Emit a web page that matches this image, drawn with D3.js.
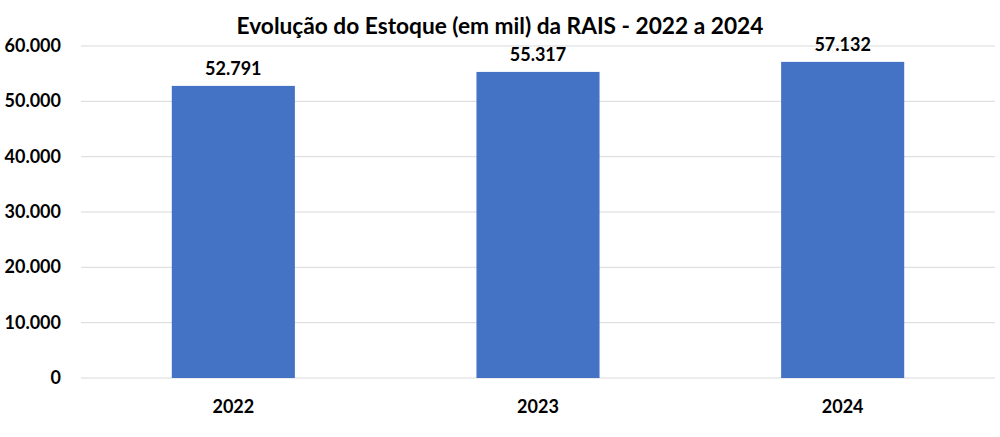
<!DOCTYPE html>
<html><head><meta charset="utf-8">
<script src="https://cdn.jsdelivr.net/npm/d3@7"></script>
<style>body{margin:0;background:#fff}svg{display:block}text{font-family:Lato,"Open Sans",sans-serif;font-weight:bold;fill:#000}</style>
</head><body><svg id="c" width="1000" height="437"></svg>
<script>
const categories = ["2022","2023","2024"];
const values = [52791, 55317, 57132];
const valueLabels = ["52.791","55.317","57.132"];
const yTicks = [0,10000,20000,30000,40000,50000,60000];
const yTickLabels = ["0","10.000","20.000","30.000","40.000","50.000","60.000"];
const title = "Evolução do Estoque (em mil) da RAIS - 2022 a 2024";

(function(){
const svg = d3.select("#c");
const mLeft = 81, mRight = 995, mTop = 46, mBottom = 378;
const x = d3.scaleBand().domain(categories).range([mLeft, mRight]).paddingInner(0.596).paddingOuter(0.298);
const y = d3.scaleLinear().domain([0, 60000]).range([mBottom, mTop]);

svg.append("text").attr("x", 500).attr("y", 34).attr("text-anchor","middle").style("font-size","22.7px").text(title);

svg.append("g").selectAll("line").data(yTicks).join("line")
  .attr("x1", mLeft).attr("x2", mRight).attr("y1", d=>y(d)).attr("y2", d=>y(d))
  .attr("stroke", "#d9d9d9").attr("stroke-width", 1);

svg.append("g").selectAll("text").data(yTicks).join("text")
  .attr("x", 61).attr("y", d=>y(d)+6).attr("text-anchor","end").style("font-size","18px")
  .text((d,i)=>yTickLabels[i]);

svg.append("g").selectAll("rect").data(values).join("rect")
  .attr("x", (d,i)=>x(categories[i])).attr("width", x.bandwidth())
  .attr("y", d=>y(d)).attr("height", d=>y(0)-y(d)).attr("fill", "#4472c4");

svg.append("g").selectAll("text").data(values).join("text")
  .attr("x", (d,i)=>x(categories[i])+x.bandwidth()/2).attr("y", d=>y(d)-11)
  .attr("text-anchor","middle").style("font-size","18px").text((d,i)=>valueLabels[i]);

svg.append("g").selectAll("text").data(categories).join("text")
  .attr("x", d=>x(d)+x.bandwidth()/2).attr("y", 413)
  .attr("text-anchor","middle").style("font-size","18px").text(d=>d);
})();
</script></body></html>
